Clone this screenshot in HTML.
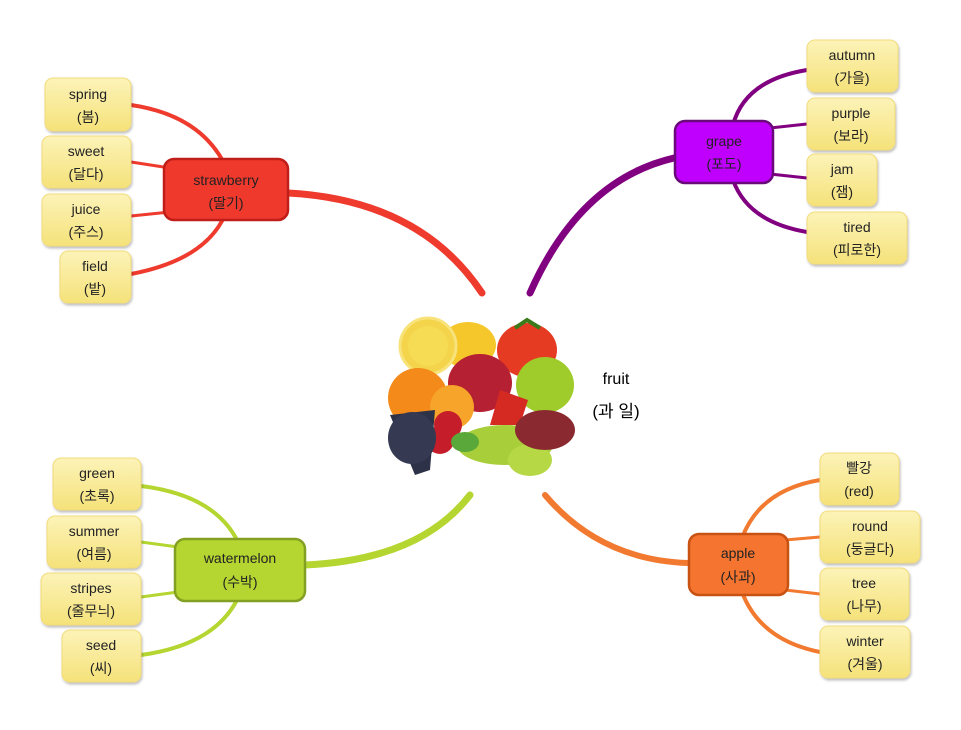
<!DOCTYPE html>
<html><head><meta charset="utf-8"><style>
body{margin:0;background:#fff}
svg text{font-family:"Liberation Sans","Noto Sans CJK KR",sans-serif;font-size:14px;text-anchor:middle;fill:#222}
</style></head><body>
<svg width="961" height="725" viewBox="0 0 961 725" xmlns="http://www.w3.org/2000/svg">
<defs>
<linearGradient id="lf" x1="0" y1="0" x2="0" y2="1"><stop offset="0" stop-color="#fcf3b8"/><stop offset="1" stop-color="#f5e27a"/></linearGradient>
<filter id="sh"><feDropShadow dx="1" dy="2" stdDeviation="1.2" flood-color="#000" flood-opacity="0.25"/></filter>
</defs>
<g fill="none" stroke-linecap="round">
<!-- main branches -->
<path d="M288,193 Q420,200 482,293" stroke="#ef3a2e" stroke-width="7"/>
<path d="M674,158 Q580,180 530,293" stroke="#800080" stroke-width="7"/>
<path d="M305,565 Q420,560 470,495" stroke="#b5d631" stroke-width="7"/>
<path d="M688,563 Q600,560 545,495" stroke="#f27a30" stroke-width="6"/>
<!-- strawberry leaves -->
<path d="M131,105 Q200,115 225,165" stroke="#ef3a2e" stroke-width="4"/>
<path d="M131,162 L170,168" stroke="#ef3a2e" stroke-width="3"/>
<path d="M131,216 L170,212" stroke="#ef3a2e" stroke-width="3"/>
<path d="M131,274 Q205,260 225,215" stroke="#ef3a2e" stroke-width="4"/>
<!-- grape leaves -->
<path d="M807,70 Q745,80 733,125" stroke="#800080" stroke-width="4"/>
<path d="M807,124 L770,128" stroke="#800080" stroke-width="3"/>
<path d="M807,178 L770,174" stroke="#800080" stroke-width="3"/>
<path d="M807,232 Q748,222 733,180" stroke="#800080" stroke-width="4"/>
<!-- watermelon leaves -->
<path d="M141,486 Q215,495 238,542" stroke="#b5d631" stroke-width="4"/>
<path d="M141,542 L178,547" stroke="#b5d631" stroke-width="3"/>
<path d="M141,597 L178,592" stroke="#b5d631" stroke-width="3"/>
<path d="M141,655 Q215,645 238,598" stroke="#b5d631" stroke-width="4"/>
<!-- apple leaves -->
<path d="M820,480 Q760,490 742,538" stroke="#f27a30" stroke-width="4"/>
<path d="M820,537 L785,540" stroke="#f27a30" stroke-width="3"/>
<path d="M820,594 L785,590" stroke="#f27a30" stroke-width="3"/>
<path d="M820,652 Q760,640 742,592" stroke="#f27a30" stroke-width="4"/>
</g>
<!-- center white area -->
<rect x="470" y="293" width="80" height="8" fill="#fff" opacity="0"/>
<!-- fruit illustration -->
<g>
<ellipse cx="468" cy="345" rx="28" ry="23" fill="#f5c72a"/>
<circle cx="428" cy="346" r="28" fill="#f3d44a" stroke="#f8e27a" stroke-width="3"/>
<circle cx="428" cy="346" r="20" fill="#f6dc55"/>
<ellipse cx="527" cy="350" rx="30" ry="27" fill="#e53b22"/>
<path d="M515,328 L527,320 L540,328" stroke="#3a7a1a" stroke-width="4" fill="none"/>
<ellipse cx="418" cy="398" rx="30" ry="30" fill="#f38a1a"/>
<ellipse cx="480" cy="383" rx="32" ry="29" fill="#b52032"/>
<ellipse cx="545" cy="385" rx="29" ry="28" fill="#9fcc2a"/>
<circle cx="452" cy="407" r="22" fill="#f6a42a"/>
<path d="M500,390 L528,400 L520,425 L490,425 Z" fill="#d42a22"/>
<circle cx="448" cy="425" r="14" fill="#c51e2a"/>
<circle cx="440" cy="440" r="14" fill="#c51e2a"/>
<path d="M390,415 L435,410 L430,470 L415,475 Z" fill="#2e3248"/>
<ellipse cx="412" cy="438" rx="24" ry="26" fill="#353a52"/>
<ellipse cx="505" cy="445" rx="48" ry="20" fill="#a8cf3a"/>
<ellipse cx="530" cy="460" rx="22" ry="16" fill="#b5d844"/>
<ellipse cx="545" cy="430" rx="30" ry="20" fill="#8a2a30"/>
<ellipse cx="465" cy="442" rx="14" ry="10" fill="#5aa83a"/>
</g>
<text x="616" y="384" style="font-size:16px;fill:#000">fruit</text>
<text x="616" y="417" style="font-size:17px;fill:#000">(과 일)</text>
<!-- main nodes -->
<g stroke-width="2.5">
<rect x="164" y="159" width="124" height="61" rx="10" fill="#f0392d" stroke="#c01e18"/>
<rect x="675" y="121" width="98" height="62" rx="10" fill="#bf00ff" stroke="#6a0a7a"/>
<rect x="175" y="539" width="130" height="62" rx="10" fill="#b5d631" stroke="#84a022"/>
<rect x="689" y="534" width="99" height="61" rx="10" fill="#f47430" stroke="#c85212"/>
</g>
<text x="226" y="185">strawberry</text><text x="226" y="208">(딸기)</text>
<text x="724" y="146">grape</text><text x="724" y="169">(포도)</text>
<text x="240" y="563">watermelon</text><text x="240" y="587">(수박)</text>
<text x="738" y="558">apple</text><text x="738" y="582">(사과)</text>
<!-- leaves -->
<g fill="url(#lf)" stroke="#f2dc7a" stroke-width="1" filter="url(#sh)">
<rect x="45" y="78" width="86" height="53" rx="8"/>
<rect x="42" y="136" width="89" height="52" rx="8"/>
<rect x="42" y="194" width="89" height="52" rx="8"/>
<rect x="60" y="251" width="71" height="52" rx="8"/>
<rect x="807" y="40" width="91" height="52" rx="8"/>
<rect x="807" y="98" width="88" height="52" rx="8"/>
<rect x="807" y="154" width="70" height="52" rx="8"/>
<rect x="807" y="212" width="100" height="52" rx="8"/>
<rect x="53" y="458" width="88" height="52" rx="8"/>
<rect x="47" y="516" width="94" height="52" rx="8"/>
<rect x="41" y="573" width="100" height="52" rx="8"/>
<rect x="62" y="630" width="79" height="52" rx="8"/>
<rect x="820" y="453" width="79" height="52" rx="8"/>
<rect x="820" y="511" width="100" height="52" rx="8"/>
<rect x="820" y="568" width="89" height="52" rx="8"/>
<rect x="820" y="626" width="90" height="52" rx="8"/>
</g>
<text x="88" y="99">spring</text><text x="88" y="122">(봄)</text>
<text x="86" y="156">sweet</text><text x="86" y="179">(달다)</text>
<text x="86" y="214">juice</text><text x="86" y="237">(주스)</text>
<text x="95" y="271">field</text><text x="95" y="294">(밭)</text>
<text x="852" y="60">autumn</text><text x="852" y="83">(가을)</text>
<text x="851" y="118">purple</text><text x="851" y="141">(보라)</text>
<text x="842" y="174">jam</text><text x="842" y="197">(잼)</text>
<text x="857" y="232">tired</text><text x="857" y="255">(피로한)</text>
<text x="97" y="478">green</text><text x="97" y="501">(초록)</text>
<text x="94" y="536">summer</text><text x="94" y="559">(여름)</text>
<text x="91" y="593">stripes</text><text x="91" y="616">(줄무늬)</text>
<text x="101" y="650">seed</text><text x="101" y="673">(씨)</text>
<text x="859" y="473">빨강</text><text x="859" y="496">(red)</text>
<text x="870" y="531">round</text><text x="870" y="554">(둥글다)</text>
<text x="864" y="588">tree</text><text x="864" y="611">(나무)</text>
<text x="865" y="646">winter</text><text x="865" y="669">(겨울)</text>
</svg>
</body></html>
